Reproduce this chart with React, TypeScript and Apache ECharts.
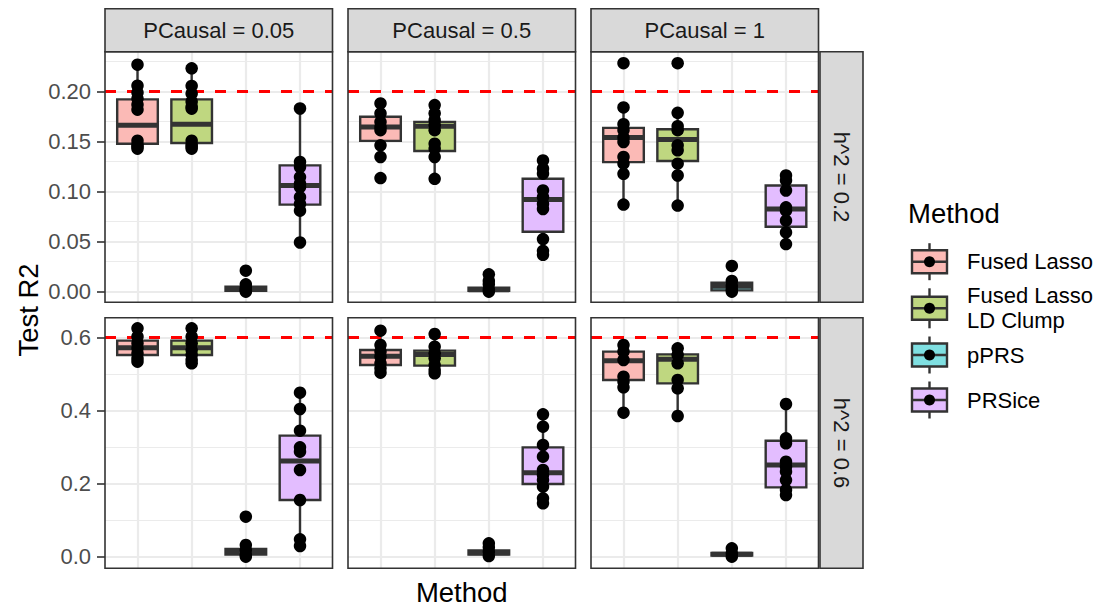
import React, { useEffect, useRef } from 'react';
import * as echarts from 'echarts';

// Facet levels and methods
const methods = ['Fused Lasso', 'Fused Lasso\nLD Clump', 'pPRS', 'PRSice'];
const methodColors = ['#FBBAB6', '#BFD780', '#7FDFE1', '#E3BDFF'];
const pcausalLabels = ['PCausal = 0.05', 'PCausal = 0.5', 'PCausal = 1'];
const h2Labels = ['h^2 = 0.2', 'h^2 = 0.6'];
const h2Targets = [0.2, 0.6];

// Tick labels per facet row
const topTicks = [0, 0.05, 0.1, 0.15, 0.2];
const topMinor = [0.025, 0.075, 0.125, 0.175, 0.225];
const bottomTicks = [0, 0.2, 0.4, 0.6];
const bottomMinor = [0.1, 0.3, 0.5];

// Box statistics per method: [lower whisker, Q1, median, Q3, upper whisker]
const boxH02Pc005 = [
  [0.143, 0.148, 0.1665, 0.1923, 0.227],
  [0.143, 0.1487, 0.1675, 0.1923, 0.2234],
  [0.0, 0.001, 0.003, 0.005, 0.008],
  [0.049, 0.0871, 0.1062, 0.1263, 0.1832],
];
const boxH02Pc05 = [
  [0.1347, 0.1508, 0.1648, 0.1749, 0.1883],
  [0.1129, 0.1407, 0.1655, 0.1698, 0.1866],
  [0.0, 0.001, 0.002, 0.004, 0.007],
  [0.0358, 0.06, 0.0921, 0.1129, 0.1313],
];
const boxH02Pc1 = [
  [0.0871, 0.1296, 0.1541, 0.1638, 0.1843],
  [0.0861, 0.1307, 0.1521, 0.1625, 0.1789],
  [0.0, 0.0013, 0.0054, 0.009, 0.0107],
  [0.0476, 0.065, 0.0827, 0.1062, 0.1162],
];
const boxH06Pc005 = [
  [0.5334, 0.5517, 0.5717, 0.5909, 0.6246],
  [0.529, 0.5517, 0.5717, 0.5909, 0.6246],
  [0.0, 0.006, 0.014, 0.021, 0.0365],
  [0.0292, 0.155, 0.2617, 0.331, 0.4486],
];
const boxH06Pc05 = [
  [0.503, 0.5243, 0.548, 0.5653, 0.618],
  [0.502, 0.5225, 0.553, 0.5635, 0.609],
  [0.0, 0.006, 0.011, 0.017, 0.0365],
  [0.146, 0.1988, 0.2298, 0.299, 0.3893],
];
const boxH06Pc1 = [
  [0.3939, 0.4833, 0.5362, 0.5608, 0.579],
  [0.3848, 0.4741, 0.5398, 0.5535, 0.57],
  [0.0, 0.003, 0.0064, 0.01, 0.023],
  [0.1687, 0.1897, 0.2508, 0.3173, 0.4176],
];

// Individual replicate results per method
const pointsH02Pc005 = [
  [0.227, 0.206, 0.199, 0.193, 0.187, 0.182, 0.151, 0.147, 0.145, 0.143],
  [0.2234, 0.2057, 0.198, 0.19, 0.185, 0.183, 0.151, 0.147, 0.145, 0.143],
  [0.021, 0.0074, 0.004, 0.002, 0.001, 0.0],
  [0.1832, 0.1297, 0.1246, 0.1146, 0.108, 0.1045, 0.0945, 0.0878, 0.081, 0.0492],
];
const pointsH02Pc05 = [
  [0.1883, 0.1782, 0.1698, 0.1648, 0.1615, 0.1464, 0.1347, 0.1136],
  [0.1866, 0.1782, 0.1715, 0.1665, 0.1615, 0.148, 0.143, 0.1347, 0.1129],
  [0.0174, 0.0107, 0.0074, 0.0023, 0.0],
  [0.1313, 0.123, 0.118, 0.1012, 0.0945, 0.0878, 0.0827, 0.0526, 0.0409, 0.0369],
];
const pointsH02Pc1 = [
  [0.2285, 0.1843, 0.1675, 0.1615, 0.1541, 0.1497, 0.1347, 0.128, 0.1179, 0.0871],
  [0.2285, 0.1789, 0.1655, 0.1615, 0.1464, 0.1414, 0.128, 0.1162, 0.0861],
  [0.0258, 0.0107, 0.0057, 0.0023, 0.0],
  [0.1162, 0.1112, 0.1012, 0.0844, 0.081, 0.071, 0.0593, 0.0476],
];
const pointsH06Pc005 = [
  [0.6246, 0.6018, 0.5836, 0.5699, 0.5562, 0.5425, 0.5334],
  [0.6246, 0.6018, 0.5836, 0.5653, 0.5517, 0.538, 0.529],
  [0.1094, 0.0319, 0.0182, 0.0046, 0.0],
  [0.4486, 0.404, 0.3447, 0.2991, 0.2872, 0.2371, 0.155, 0.0474, 0.0292],
];
const pointsH06Pc05 = [
  [0.6182, 0.579, 0.5608, 0.5471, 0.5289, 0.5152, 0.5033],
  [0.6091, 0.5745, 0.5562, 0.5425, 0.5243, 0.5106, 0.5015],
  [0.0365, 0.0255, 0.0137, 0.0018],
  [0.3893, 0.3556, 0.3055, 0.2735, 0.2371, 0.2234, 0.2097, 0.1915, 0.1596, 0.1459],
];
const pointsH06Pc1 = [
  [0.579, 0.5608, 0.538, 0.4924, 0.4787, 0.4632, 0.3939],
  [0.5699, 0.5517, 0.5289, 0.4833, 0.4605, 0.3848],
  [0.0228, 0.0091, 0.0],
  [0.4176, 0.3237, 0.31, 0.2599, 0.2462, 0.2325, 0.2097, 0.1824, 0.1687],
];

const panelBoxes = [
  [boxH02Pc005, boxH02Pc05, boxH02Pc1],
  [boxH06Pc005, boxH06Pc05, boxH06Pc1],
];
const panelPoints = [
  [pointsH02Pc005, pointsH02Pc05, pointsH02Pc1],
  [pointsH06Pc005, pointsH06Pc05, pointsH06Pc1],
];

const FONT = '"Liberation Sans", Arial, Helvetica, sans-serif';
const DARK = '#333333';

// Panel geometry
const colLeft = [105, 348, 591];
const panelW = 227.5;
const rowTop = [51.7, 317.7];
const panelH = 250.6;
const yRanges = [
  [-0.0106, 0.24],
  [-0.0318, 0.6537],
];
const stripTop = 8.7;
const stripSize = 43;
const rightStripLeft = 820;

function buildOption() {
  const grid: any[] = [];
  const xAxis: any[] = [];
  const yAxis: any[] = [];
  const series: any[] = [];
  const graphic: any[] = [];

  for (let r = 0; r < 2; r++) {
    const ticks = r === 0 ? topTicks : bottomTicks;
    const minor = r === 0 ? topMinor : bottomMinor;
    const digits = r === 0 ? 2 : 1;
    for (let c = 0; c < 3; c++) {
      const idx = r * 3 + c;
      grid.push({
        left: colLeft[c],
        top: rowTop[r],
        width: panelW,
        height: panelH,
        show: true,
        backgroundColor: '#ffffff',
        borderWidth: 0,
      });
      xAxis.push({
        type: 'value',
        gridIndex: idx,
        min: 0.4,
        max: 4.6,
        show: false,
      });
      yAxis.push({
        type: 'value',
        gridIndex: idx,
        min: yRanges[r][0],
        max: yRanges[r][1],
        splitLine: { show: false },
        axisLine: { show: false },
        axisTick: {
          show: c === 0,
          length: 8,
          customValues: ticks,
          lineStyle: { color: DARK, width: 1.6 },
        },
        axisLabel: {
          show: c === 0,
          customValues: ticks,
          formatter: (v: number) => v.toFixed(digits),
          margin: 14,
          fontSize: 22,
          color: '#4D4D4D',
          fontFamily: FONT,
        },
      });

      // background grid lines
      const gridLines: any[] = [];
      minor.forEach((v) =>
        gridLines.push({ yAxis: v, lineStyle: { color: '#EBEBEB', width: 1.1, type: 'solid' } })
      );
      ticks.forEach((v) =>
        gridLines.push({ yAxis: v, lineStyle: { color: '#EBEBEB', width: 2.2, type: 'solid' } })
      );
      methods.forEach((_, i) =>
        gridLines.push({ xAxis: i + 1, lineStyle: { color: '#EBEBEB', width: 2.2, type: 'solid' } })
      );
      series.push({
        type: 'scatter',
        xAxisIndex: idx,
        yAxisIndex: idx,
        data: [],
        z: 1,
        silent: true,
        markLine: {
          z: 1,
          silent: true,
          animation: false,
          symbol: ['none', 'none'],
          label: { show: false },
          emphasis: { disabled: true },
          data: gridLines,
        },
      });

      // boxes
      const boxes = panelBoxes[r][c];
      series.push({
        type: 'custom',
        xAxisIndex: idx,
        yAxisIndex: idx,
        z: 2,
        silent: true,
        data: boxes.map((s, i) => [i + 1, s[0], s[1], s[2], s[3], s[4], i]),
        encode: { x: 0, y: [1, 2, 3, 4, 5] },
        renderItem: (params: any, api: any) => {
          const xv = api.value(0);
          const cx = api.coord([xv, api.value(1)])[0];
          const yMin = api.coord([xv, api.value(1)])[1];
          const yQ1 = api.coord([xv, api.value(2)])[1];
          const yMed = api.coord([xv, api.value(3)])[1];
          const yQ3 = api.coord([xv, api.value(4)])[1];
          const yMax = api.coord([xv, api.value(5)])[1];
          const hw = api.size([0.75, 0])[0] / 2;
          const color = methodColors[api.value(6)];
          return {
            type: 'group',
            children: [
              {
                type: 'line',
                shape: { x1: cx, y1: yMax, x2: cx, y2: yQ3 },
                style: { stroke: DARK, lineWidth: 2.4 },
              },
              {
                type: 'line',
                shape: { x1: cx, y1: yQ1, x2: cx, y2: yMin },
                style: { stroke: DARK, lineWidth: 2.4 },
              },
              {
                type: 'rect',
                shape: { x: cx - hw, y: yQ3, width: 2 * hw, height: yQ1 - yQ3 },
                style: { fill: color, stroke: DARK, lineWidth: 2.4 },
              },
              {
                type: 'line',
                shape: { x1: cx - hw, y1: yMed, x2: cx + hw, y2: yMed },
                style: { stroke: DARK, lineWidth: 5 },
              },
            ],
          };
        },
      });

      // heritability reference line
      series.push({
        type: 'scatter',
        xAxisIndex: idx,
        yAxisIndex: idx,
        data: [],
        z: 3,
        silent: true,
        markLine: {
          z: 3,
          silent: true,
          animation: false,
          symbol: ['none', 'none'],
          label: { show: false },
          emphasis: { disabled: true },
          data: [{ yAxis: h2Targets[r], lineStyle: { color: '#FF0000', width: 3, type: [11, 11] } }],
        },
      });

      // replicate points
      const pts = panelPoints[r][c];
      series.push({
        type: 'scatter',
        xAxisIndex: idx,
        yAxisIndex: idx,
        z: 4,
        silent: true,
        symbol: 'circle',
        symbolSize: 12.5,
        itemStyle: { color: '#000000', opacity: 1, borderWidth: 0 },
        data: pts.flatMap((arr, i) => arr.map((v) => [i + 1, v])),
      });

      // panel border
      graphic.push({
        type: 'rect',
        z: 100,
        shape: { x: colLeft[c], y: rowTop[r], width: panelW, height: panelH },
        style: { fill: 'none', stroke: DARK, lineWidth: 1.6 },
      });
    }
  }

  // column strips
  for (let c = 0; c < 3; c++) {
    graphic.push({
      type: 'rect',
      z: 100,
      shape: { x: colLeft[c], y: stripTop, width: panelW, height: stripSize },
      style: { fill: '#D9D9D9', stroke: DARK, lineWidth: 1.6 },
    });
    graphic.push({
      type: 'text',
      z: 101,
      x: colLeft[c] + panelW / 2,
      y: stripTop + stripSize / 2,
      style: {
        text: pcausalLabels[c],
        fontSize: 22,
        fontFamily: FONT,
        fill: '#1A1A1A',
        align: 'center',
        verticalAlign: 'middle',
      },
    });
  }

  // row strips
  for (let r = 0; r < 2; r++) {
    graphic.push({
      type: 'rect',
      z: 100,
      shape: { x: rightStripLeft, y: rowTop[r], width: stripSize, height: panelH },
      style: { fill: '#D9D9D9', stroke: DARK, lineWidth: 1.6 },
    });
    graphic.push({
      type: 'text',
      z: 101,
      x: rightStripLeft + stripSize / 2,
      y: rowTop[r] + panelH / 2,
      rotation: -Math.PI / 2,
      style: {
        text: h2Labels[r],
        fontSize: 22,
        fontFamily: FONT,
        fill: '#1A1A1A',
        align: 'center',
        verticalAlign: 'middle',
      },
    });
  }

  // axis titles
  graphic.push({
    type: 'text',
    z: 101,
    x: (colLeft[0] + colLeft[2] + panelW) / 2,
    y: 592,
    style: {
      text: 'Method',
      fontSize: 27.5,
      fontFamily: FONT,
      fill: '#000',
      align: 'center',
      verticalAlign: 'middle',
    },
  });
  graphic.push({
    type: 'text',
    z: 101,
    x: 28,
    y: (rowTop[0] + rowTop[1] + panelH) / 2,
    rotation: Math.PI / 2,
    style: {
      text: 'Test R2',
      fontSize: 27.5,
      fontFamily: FONT,
      fill: '#000',
      align: 'center',
      verticalAlign: 'middle',
    },
  });

  // legend
  graphic.push({
    type: 'text',
    z: 101,
    x: 908,
    y: 213,
    style: {
      text: 'Method',
      fontSize: 27.5,
      fontFamily: FONT,
      fill: '#000',
      align: 'left',
      verticalAlign: 'middle',
    },
  });
  const keyCenters = [261.7, 308.3, 355, 400];
  const keyX = 929.5;
  const keyHalfW = 17.5;
  methods.forEach((m, i) => {
    const cy = keyCenters[i];
    const half = i === 1 ? 20 : 18.5;
    graphic.push({
      type: 'line',
      z: 101,
      shape: { x1: keyX, y1: cy - half, x2: keyX, y2: cy + half },
      style: { stroke: DARK, lineWidth: 2.4 },
    });
    graphic.push({
      type: 'rect',
      z: 102,
      shape: { x: keyX - keyHalfW, y: cy - 11.5, width: keyHalfW * 2, height: 23 },
      style: { fill: methodColors[i], stroke: DARK, lineWidth: 2.4 },
    });
    graphic.push({
      type: 'line',
      z: 103,
      shape: { x1: keyX - keyHalfW, y1: cy, x2: keyX + keyHalfW, y2: cy },
      style: { stroke: DARK, lineWidth: 2.5 },
    });
    graphic.push({
      type: 'circle',
      z: 104,
      shape: { cx: keyX, cy, r: 5.5 },
      style: { fill: '#000' },
    });
    graphic.push({
      type: 'text',
      z: 101,
      x: 967,
      y: cy,
      style: {
        text: m,
        fontSize: 22,
        lineHeight: 25,
        fontFamily: FONT,
        fill: '#000',
        align: 'left',
        verticalAlign: 'middle',
      },
    });
  });

  return {
    animation: false,
    backgroundColor: '#ffffff',
    grid,
    xAxis,
    yAxis,
    series,
    graphic,
  };
}

export default function App() {
  const ref = useRef<HTMLDivElement>(null);
  useEffect(() => {
    if (!ref.current) return;
    const chart = echarts.init(ref.current, undefined, { renderer: 'svg' });
    chart.setOption(buildOption() as any);
    return () => {
      chart.dispose();
    };
  }, []);
  return (
    <div
      ref={ref}
      style={{ position: 'absolute', left: 0, top: 0, width: 1099, height: 610 }}
    />
  );
}
